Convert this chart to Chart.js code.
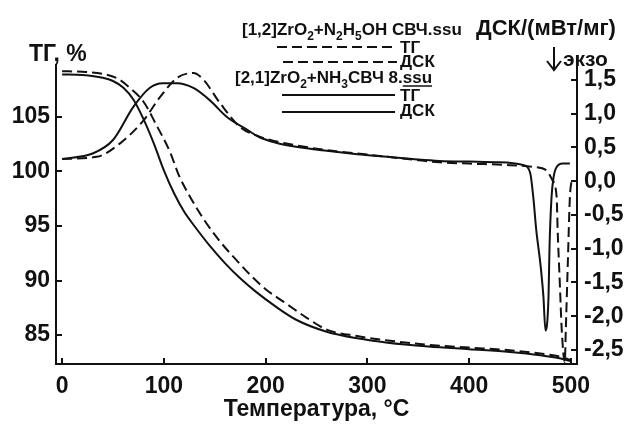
<!DOCTYPE html>
<html><head><meta charset="utf-8">
<script src="https://cdn.jsdelivr.net/npm/chart.js@4"></script>
<style>html,body{margin:0;padding:0;background:#fff;}canvas{display:block;}</style>
</head><body>
<canvas id="c" width="628" height="426"></canvas>
<script>
// ---- data: sample [1,2] ZrO2+N2H5OH (dashed) ----
const tgTempA = [0,20,40,55,65,80,93,106,115,125,140,155,170,185,200,220,240,260,290,320,360,400,440,470,490,500];
const tgA     = [109.2,109.15,108.95,108.5,107.8,106.4,104.2,101.8,99.6,97.8,95.5,93.6,92.0,90.5,89.2,87.9,86.6,85.5,84.9,84.5,84.1,83.85,83.6,83.3,83.0,82.7];
const dscTempA = [0,34,57,80,96,113,129,139,155,175,194,210,230,260,290,320,350,371,400,437,463,476,482,486,487,489,491,494,495,497,499,501];
const dscA     = [0.33,0.36,0.56,0.90,1.24,1.53,1.60,1.50,1.16,0.80,0.66,0.59,0.53,0.46,0.41,0.36,0.31,0.28,0.26,0.24,0.21,0.16,0.01,-0.24,-0.73,-1.47,-2.2,-2.68,-2.2,-1.2,-0.24,0.04];
// ---- data: sample [2,1] ZrO2+NH3 (solid) ----
const tgTempB = [0,20,40,50,60,70,80,90,100,110,120,130,145,160,175,190,210,230,260,290,320,360,400,440,470,490,500];
const tgB     = [108.9,108.85,108.6,108.3,107.7,106.6,104.8,102.6,100.1,98.0,96.3,95.0,93.2,91.6,90.2,89.0,87.6,86.4,85.3,84.7,84.3,83.95,83.7,83.45,83.15,82.85,82.6];
const dscTempB = [0,30,50,70,86,99,113,129,145,162,182,194,210,230,260,290,320,350,371,400,430,453,460,463,466,470,473,475,478,479,481,483,486,492,499];
const dscB     = [0.33,0.41,0.61,1.10,1.38,1.45,1.45,1.38,1.20,0.95,0.76,0.65,0.57,0.51,0.45,0.40,0.36,0.32,0.30,0.29,0.28,0.24,0.12,-0.23,-0.73,-1.22,-1.71,-2.21,-1.71,-0.97,-0.23,0.06,0.21,0.26,0.26];
// ---- ticks and texts ----
const xTicks = [0,100,200,300,400,500];
const tgTicks = [85,90,95,100,105];
const dscTicks = [-2.5,-2,-1.5,-1,-0.5,0,0.5,1,1.5];
const xTitle = 'Температура, °C';
const tgTitle = 'ТГ, %';
const dscTitle = 'ДСК/(мВт/мг)';
const exoLabel = 'экзо';
const legendA = [['[1,2]ZrO',0],['2',1],['+N',0],['2',1],['H',0],['5',1],['OH СВЧ.ssu',0]];
const legendB = [['[2,1]ZrO',0],['2',1],['+NH',0],['3',1],['СВЧ 8.ssu',0]];
const tgLabel = 'ТГ';
const dscLabel = 'ДСК';

const INK = '#111';
const FAM = '"Liberation Sans", Arial, sans-serif';
const DASH = [10,5];
const pts = (xs, ys) => xs.map((v,i)=>({x:v, y:ys[i]}));

function richText(ctx, x, y, parts, size){
  let cx = x;
  parts.forEach(([t,sub])=>{
    ctx.font = 'bold ' + (sub? Math.round(size*0.72) : size) + 'px ' + FAM;
    ctx.fillText(t, cx, sub ? y + size*0.28 : y);
    cx += ctx.measureText(t).width;
  });
  return cx;
}

const decor = {
  id:'decor',
  afterDraw(chart){
    const ctx = chart.ctx;
    const sx = chart.scales.x, sy = chart.scales.y, sy2 = chart.scales.y2;
    const a = chart.chartArea;
    ctx.save();
    ctx.strokeStyle = INK; ctx.lineWidth = 2; ctx.setLineDash([]);
    const L = 6;
    ctx.beginPath();
    sx.ticks.forEach(t=>{const p=Math.round(sx.getPixelForValue(t.value)); ctx.moveTo(p,a.bottom); ctx.lineTo(p,a.bottom-L);});
    sy.ticks.forEach(t=>{const p=Math.round(sy.getPixelForValue(t.value)); ctx.moveTo(a.left,p); ctx.lineTo(a.left+L,p);});
    sy2.ticks.forEach(t=>{const p=Math.round(sy2.getPixelForValue(t.value)); ctx.moveTo(a.right,p); ctx.lineTo(a.right-L,p);});
    ctx.stroke();
    ctx.fillStyle = INK; ctx.textAlign='left'; ctx.textBaseline='alphabetic';
    ctx.font = 'bold 23px ' + FAM;
    ctx.fillText(tgTitle, 29, 61);
    ctx.font = 'bold 22px ' + FAM;
    ctx.fillText(dscTitle, 476, 35);
    ctx.font = 'bold 21px ' + FAM;
    ctx.fillText(exoLabel, 563, 66);
    // arrow
    ctx.beginPath();
    ctx.moveTo(554,47); ctx.lineTo(554,70);
    ctx.moveTo(547,61); ctx.lineTo(554,70); ctx.lineTo(561,61);
    ctx.stroke();
    // legend
    const LS = 17;
    richText(ctx, 242, 35, legendA, LS);
    const endB = richText(ctx, 235, 83, legendB, LS);
    ctx.font = 'bold ' + LS + 'px ' + FAM;
    const ssuW = ctx.measureText('ssu').width;
    ctx.lineWidth = 1.5;
    ctx.beginPath(); ctx.moveTo(endB-ssuW, 86); ctx.lineTo(endB, 86); ctx.stroke();
    ctx.fillText(tgLabel, 400, 53);
    ctx.fillText(dscLabel, 400, 67);
    ctx.fillText(tgLabel, 400, 101);
    ctx.fillText(dscLabel, 400, 116);
    ctx.lineWidth = 2;
    ctx.setLineDash(DASH);
    ctx.beginPath(); ctx.moveTo(277,47); ctx.lineTo(395,47); ctx.stroke();
    ctx.beginPath(); ctx.moveTo(283,62); ctx.lineTo(397,62); ctx.stroke();
    ctx.setLineDash([]);
    ctx.beginPath(); ctx.moveTo(282,95); ctx.lineTo(395,95); ctx.stroke();
    ctx.beginPath(); ctx.moveTo(282,112); ctx.lineTo(395,112); ctx.stroke();
    ctx.restore();
  }
};

const lineDs = (label, data, axis, dashed) => ({
  label, data, yAxisID: axis, borderColor: INK, borderWidth: 2,
  borderDash: dashed ? DASH : [], pointRadius: 0, fill: false,
  cubicInterpolationMode: 'monotone', tension: 0.4
});

const tickFont = {family: FAM, size: 23, weight: 'bold'};

new Chart(document.getElementById('c'), {
  type: 'line',
  data: { datasets: [
    lineDs('ТГ [1,2]', pts(tgTempA, tgA), 'y', true),
    lineDs('ДСК [1,2]', pts(dscTempA, dscA), 'y2', true),
    lineDs('ТГ [2,1]', pts(tgTempB, tgB), 'y', false),
    lineDs('ДСК [2,1]', pts(dscTempB, dscB), 'y2', false)
  ]},
  options: {
    responsive: false, animation: false, devicePixelRatio: 1,
    layout: { padding: { top: 65, left: 0, right: 0, bottom: 0 } },
    plugins: { legend: {display:false}, tooltip: {enabled:false} },
    scales: {
      x: { type:'linear', position:'bottom', min:-6, max:506,
        afterBuildTicks: s => { s.ticks = xTicks.map(v=>({value:v})); },
        afterFit: s => { s.height = 62; },
        ticks: { font: tickFont, color: INK, padding: 9, maxRotation: 0, autoSkip: false },
        grid: { display:false, drawTicks:false },
        border: { display:true, color: INK, width: 2 },
        title: { display:true, text: xTitle, color: INK, font:{family:FAM, size:23, weight:'bold'}, padding:{top:0, bottom:3} }
      },
      y: { type:'linear', position:'left', min:82.34, max:109.77,
        afterBuildTicks: s => { s.ticks = tgTicks.map(v=>({value:v})); },
        afterFit: s => { s.width = 56; },
        ticks: { font: tickFont, color: INK, padding: 6, callback: v => String(v) },
        grid: { display:false, drawTicks:false },
        border: { display:true, color: INK, width: 2 }
      },
      y2: { type:'linear', position:'right', min:-2.707, max:1.72,
        afterBuildTicks: s => { s.ticks = dscTicks.map(v=>({value:v})); },
        afterFit: s => { s.width = 51; },
        ticks: { font: tickFont, color: INK, padding: 7, callback: v => v.toFixed(1).replace('.', ',') },
        grid: { display:false, drawTicks:false },
        border: { display:true, color: INK, width: 2 }
      }
    }
  },
  plugins: [decor]
});
</script>
</body></html>
